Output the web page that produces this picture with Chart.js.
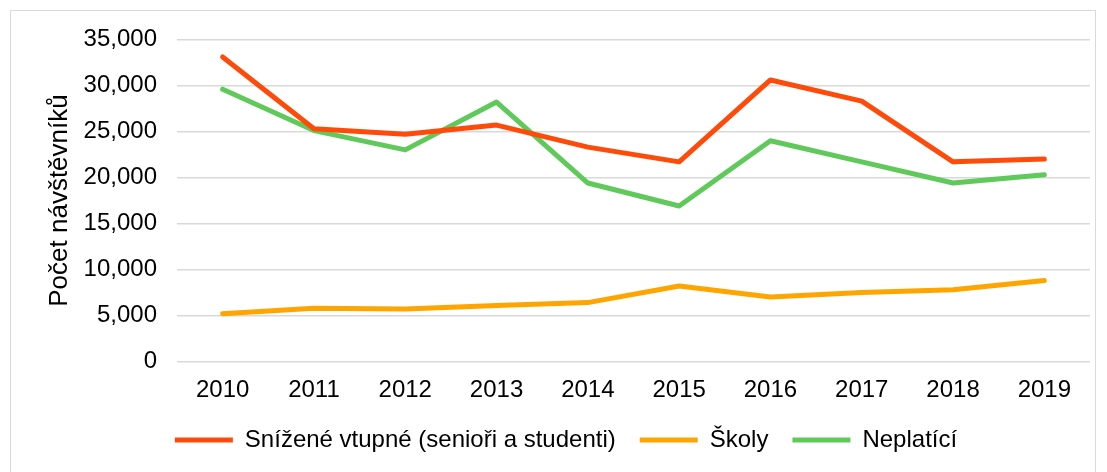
<!DOCTYPE html>
<html>
<head>
<meta charset="utf-8">
<script src="https://cdn.jsdelivr.net/npm/chart.js@4"></script>
<style>
  html, body { margin: 0; padding: 0; background: #fff; }
  #wrap { position: relative; width: 1107px; height: 472px; }
  #frame { position: absolute; left: 10px; top: 10px; width: 1086px; height: 470px; border: 1px solid #d9d9d9; box-sizing: border-box; }
  canvas { position: absolute; left: 0; top: 0; }
</style>
</head>
<body>
<div id="wrap">
  <div id="frame"></div>
  <canvas id="c" width="1107" height="472"></canvas>
</div>
<script>
const categories = ["2010","2011","2012","2013","2014","2015","2016","2017","2018","2019"];
const reduced = [33100, 25300, 24700, 25700, 23300, 21700, 30600, 28300, 21700, 22000];
const schools = [5200, 5800, 5700, 6100, 6400, 8200, 7000, 7500, 7800, 8800];
const free = [29600, 25100, 23000, 28200, 19400, 16900, 24000, 21700, 19400, 20300];
const seriesNames = ["Snížené vtupné (senioři a studenti)", "Školy", "Neplatící"];
const seriesColors = ["#FF4B0A", "#FFA500", "#5FC95A"];
const yTitle = "Počet návštěvníků";

Chart.defaults.font.family = "'Liberation Sans', Arial, sans-serif";
Chart.defaults.color = "#000";

const mk = (i, data) => ({
  label: seriesNames[i], data,
  borderColor: seriesColors[i], backgroundColor: seriesColors[i],
  borderWidth: 5, pointRadius: 0, tension: 0, borderCapStyle: 'round', borderJoinStyle: 'round'
});

new Chart(document.getElementById('c'), {
  type: 'line',
  data: { labels: categories, datasets: [mk(0, reduced), mk(1, schools), mk(2, free)] },
  options: {
    responsive: false, animation: false,
    layout: { padding: { left: 42, right: 17, top: 39.5, bottom: 10 } },
    plugins: {
      legend: {
        position: 'bottom',
        labels: {
          font: { size: 24 }, color: '#000', boxWidth: 58, boxHeight: 5, padding: 24,
          generateLabels(chart) {
            return chart.data.datasets.map((d, i) => ({
              text: d.label, fillStyle: d.borderColor, strokeStyle: d.borderColor,
              lineWidth: 0, hidden: false, datasetIndex: i, fontColor: '#000'
            }));
          }
        }
      },
      tooltip: { enabled: false }
    },
    scales: {
      x: {
        offset: true,
        grid: { display: false }, border: { display: false },
        ticks: { font: { size: 24 }, color: '#000', padding: 6 },
        afterFit(s) { s.height = 42.5; }
      },
      y: {
        min: 0, max: 35000,
        ticks: { stepSize: 5000, font: { size: 24 }, color: '#000', padding: 20,
          callback: v => v.toLocaleString('en-US') },
        grid: { color: '#d9d9d9', lineWidth: 1.5, drawTicks: false },
        border: { display: false },
        title: { display: true, text: yTitle, font: { size: 26 }, color: '#000', padding: 2 },
        afterFit(s) { s.width = 135; }
      }
    }
  }
});
</script>
</body>
</html>
